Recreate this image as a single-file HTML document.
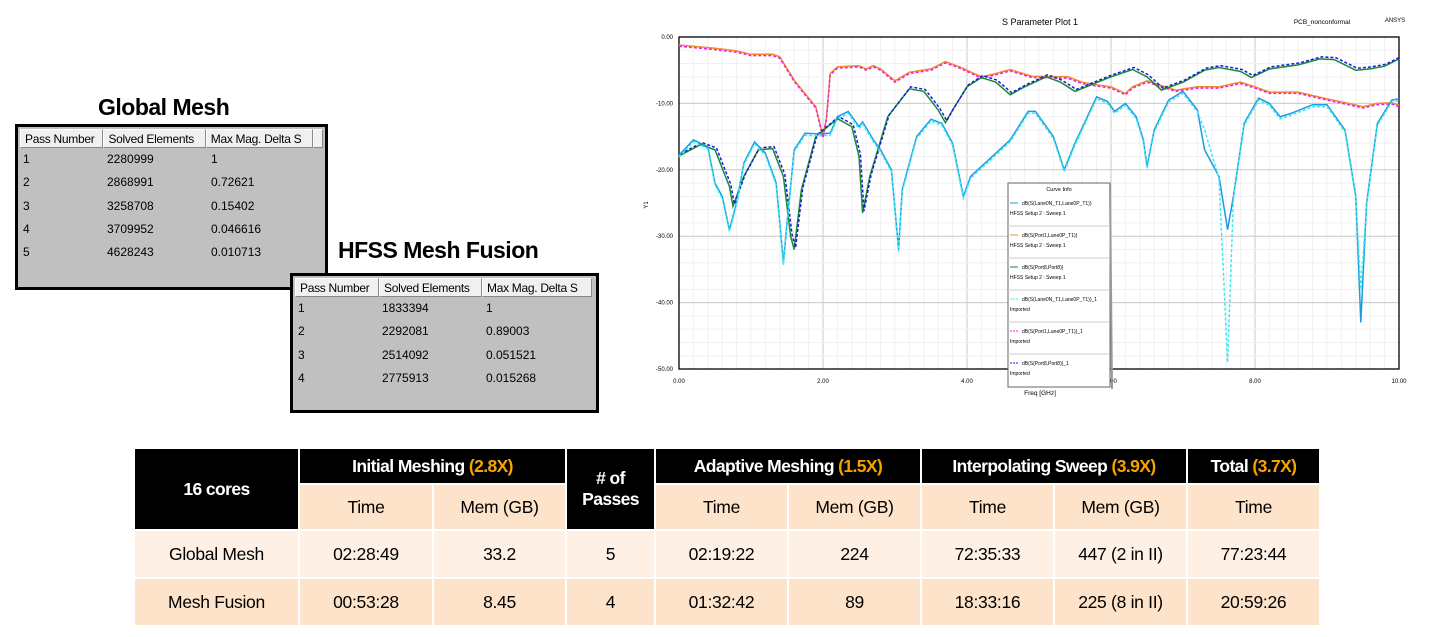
<!DOCTYPE html>
<html><head><meta charset="utf-8"><style>
body{margin:0;width:1442px;height:637px;background:#fff;position:relative;overflow:hidden;font-family:"Liberation Sans",sans-serif}
.h{position:absolute;font-weight:bold;font-size:23px;color:#000;letter-spacing:-0.5px}
.win{position:absolute;border:3px solid #000;background:#c0c0c0;font-size:12px;color:#000}
.win .hd{display:flex;margin:2px 2px 0 2px}
.win .hd div{background:#f0f0f0;border:1px solid #888;border-top-color:#fff;border-left-color:#fff;height:19px;line-height:19px;padding-left:4px;box-sizing:border-box;letter-spacing:-0.3px}
.win .r{display:flex;height:23.3px;line-height:23px;margin-left:5px}
table.t{position:absolute;left:133px;top:447px;border-collapse:collapse;font-family:"Liberation Sans",sans-serif;font-size:17.5px;letter-spacing:-0.3px}
table.t td{border:2px solid #fff;text-align:center;padding:0}
.k{background:#000;color:#fff;font-weight:bold;letter-spacing:-0.6px}
.o{color:#f5a300}
.p{background:#fde3c9}
.q{background:#fef0e4}
</style></head><body>
<div class="h" style="left:98px;top:94px">Global Mesh</div>
<div class="win" style="left:15px;top:124px;width:307px;height:160px">
 <div class="hd"><div style="width:84px">Pass Number</div><div style="width:103px">Solved Elements</div><div style="width:108px">Max Mag. Delta S</div><div style="width:10px"></div></div>
 <div class="r"><span style="width:84px">1</span><span style="width:104px">2280999</span><span>1</span></div>
 <div class="r"><span style="width:84px">2</span><span style="width:104px">2868991</span><span>0.72621</span></div>
 <div class="r"><span style="width:84px">3</span><span style="width:104px">3258708</span><span>0.15402</span></div>
 <div class="r"><span style="width:84px">4</span><span style="width:104px">3709952</span><span>0.046616</span></div>
 <div class="r"><span style="width:84px">5</span><span style="width:104px">4628243</span><span>0.010713</span></div>
</div>
<div class="h" style="left:338px;top:237px">HFSS Mesh Fusion</div>
<div class="win" style="left:290px;top:273px;width:303px;height:134px">
 <div class="hd"><div style="width:84px">Pass Number</div><div style="width:103px">Solved Elements</div><div style="width:110px">Max Mag. Delta S</div></div>
 <div class="r"><span style="width:84px">1</span><span style="width:104px">1833394</span><span>1</span></div>
 <div class="r"><span style="width:84px">2</span><span style="width:104px">2292081</span><span>0.89003</span></div>
 <div class="r"><span style="width:84px">3</span><span style="width:104px">2514092</span><span>0.051521</span></div>
 <div class="r"><span style="width:84px">4</span><span style="width:104px">2775913</span><span>0.015268</span></div>
</div>

<svg id="pl" style="position:absolute;left:0;top:0" width="1442" height="440" font-family="Liberation Sans, sans-serif">
<text x="1040" y="25" font-size="9" text-anchor="middle">S Parameter Plot 1</text>
<text x="1322" y="24" font-size="6.5" text-anchor="middle">PCB_nonconformal</text>
<text x="1395" y="22" font-size="6" text-anchor="middle">ANSYS</text>
<text x="648" y="205" font-size="6" transform="rotate(-90 648 205)" text-anchor="middle">Y1</text>
<text x="1040" y="395" font-size="6.5" text-anchor="middle">Freq [GHz]</text>
<g id="g"></g>
<rect x="679" y="37" width="720" height="332" fill="none" stroke="#000" stroke-width="1.3"/>
<g id="c" fill="none" stroke-width="1.5"></g>
<g>
<rect x="1008" y="183" width="102" height="204" fill="#fff" stroke="#666"/>
<line x1="1110" y1="185" x2="1112" y2="389" stroke="#999" stroke-width="2"/>
<text x="1059" y="191" font-size="5.5" text-anchor="middle">Curve Info</text>
<g font-size="5">
<line x1="1010" y1="203" x2="1018" y2="203" stroke="#1e9be0"/><text x="1022" y="205">dB(S(Lane0N_T1,Lane0P_T1))</text><text x="1010" y="215">HFSS Setup 2 : Sweep 1</text>
<line x1="1008" y1="226" x2="1110" y2="226" stroke="#ccc"/>
<line x1="1010" y1="235" x2="1018" y2="235" stroke="#f08c28"/><text x="1022" y="237">dB(S(Port1,Lane0P_T1))</text><text x="1010" y="247">HFSS Setup 2 : Sweep 1</text>
<line x1="1008" y1="258" x2="1110" y2="258" stroke="#ccc"/>
<line x1="1010" y1="267" x2="1018" y2="267" stroke="#168a3a"/><text x="1022" y="269">dB(S(Port8,Port8))</text><text x="1010" y="279">HFSS Setup 2 : Sweep 1</text>
<line x1="1008" y1="290" x2="1110" y2="290" stroke="#ccc"/>
<line x1="1010" y1="299" x2="1018" y2="299" stroke="#3ee8f0" stroke-dasharray="2,1"/><text x="1022" y="301">dB(S(Lane0N_T1,Lane0P_T1))_1</text><text x="1010" y="311">Imported</text>
<line x1="1008" y1="322" x2="1110" y2="322" stroke="#ccc"/>
<line x1="1010" y1="331" x2="1018" y2="331" stroke="#f020e0" stroke-dasharray="2,1"/><text x="1022" y="333">dB(S(Port1,Lane0P_T1))_1</text><text x="1010" y="343">Imported</text>
<line x1="1008" y1="354" x2="1110" y2="354" stroke="#ccc"/>
<line x1="1010" y1="363" x2="1018" y2="363" stroke="#1a1ad8" stroke-dasharray="2,1"/><text x="1022" y="365">dB(S(Port8,Port8))_1</text><text x="1010" y="375">Imported</text>
</g></g>
</svg>

<table class="t">
<tr style="height:36px"><td class="k" rowspan="2" style="width:163px">16 cores</td><td class="k" colspan="2">Initial Meshing <span class="o">(2.8X)</span></td><td class="k" rowspan="2" style="width:87px"># of<br>Passes</td><td class="k" colspan="2">Adaptive Meshing <span class="o">(1.5X)</span></td><td class="k" colspan="2">Interpolating Sweep <span class="o">(3.9X)</span></td><td class="k">Total <span class="o">(3.7X)</span></td></tr>
<tr style="height:46px"><td class="p" style="width:132px">Time</td><td class="p" style="width:131px">Mem (GB)</td><td class="p" style="width:131px">Time</td><td class="p" style="width:131px">Mem (GB)</td><td class="p" style="width:131px">Time</td><td class="p" style="width:131px">Mem (GB)</td><td class="p" style="width:131px">Time</td></tr>
<tr style="height:48px" class="q"><td>Global Mesh</td><td>02:28:49</td><td>33.2</td><td>5</td><td>02:19:22</td><td>224</td><td>72:35:33</td><td>447 (2 in II)</td><td>77:23:44</td></tr>
<tr style="height:48px" class="p"><td class="p">Mesh Fusion</td><td class="p">00:53:28</td><td class="p">8.45</td><td class="p">4</td><td class="p">01:32:42</td><td class="p">89</td><td class="p">18:33:16</td><td class="p">225 (8 in II)</td><td class="p">20:59:26</td></tr>
</table>

<script>
var X=f=>679+f*72, Y=d=>37-d*6.64;
var g='';
for(var i=0;i<=50;i++){var f=i*0.2;g+='<line x1="'+X(f)+'" y1="37" x2="'+X(f)+'" y2="369" stroke="'+(i%10==0?'#c8c8c8':'#f0f0f0')+'" />';}
for(var j=0;j<=25;j++){var d=-j*2;g+='<line x1="679" y1="'+Y(d)+'" x2="1399" y2="'+Y(d)+'" stroke="'+(j%5==0?'#c8c8c8':'#f0f0f0')+'" />';}
for(var i=0;i<=5;i++){g+='<text x="'+X(i*2)+'" y="383" font-size="6" text-anchor="middle">'+(i*2).toFixed(2)+'</text>';}
for(var j=0;j<=5;j++){g+='<text x="673" y="'+(Y(-j*10)+2)+'" font-size="6" text-anchor="end">'+(j==0?'0.00':'-'+(j*10)+'.00')+'</text>';}
document.getElementById('g').innerHTML=g;
var S21=[0,-1.2,.5,-1.7,.8,-2.1,1,-2.6,1.3,-2.6,1.4,-3,1.6,-6.5,1.9,-10.5,2,-15,2.05,-12,2.1,-5.5,2.2,-4.5,2.5,-4.3,2.6,-4.8,2.7,-4.3,2.8,-4.8,3,-6.6,3.2,-5.3,3.5,-4.8,3.7,-3.7,3.9,-4.5,4.2,-6,4.4,-5.5,4.6,-4.9,4.9,-5.9,5.4,-6,5.6,-6.8,5.8,-7.2,6,-7.5,6.2,-8.5,6.3,-7.5,6.5,-6.6,6.7,-7.3,6.9,-8,7.2,-7.5,7.5,-7.5,7.8,-6.8,8,-7.5,8.2,-8.3,8.6,-8.3,9,-9.3,9.3,-10,9.5,-10.5,9.7,-10,9.9,-9.9,10,-10.3];
var P8=[0,-17.9,.3,-16.2,.5,-17,.7,-22.5,.75,-25.5,.9,-21,1.1,-17,1.3,-16.8,1.45,-21,1.55,-30,1.6,-32,1.7,-23,1.9,-15,2.2,-12.3,2.4,-13.5,2.5,-18,2.55,-26.5,2.65,-21,2.9,-12,3.2,-7.8,3.4,-8.2,3.6,-11,3.7,-12.9,3.8,-11,4,-7.5,4.2,-6.1,4.4,-6.8,4.6,-8.7,4.8,-7.5,5.1,-6,5.3,-6.8,5.5,-8.2,5.7,-7.3,6,-6,6.3,-4.9,6.5,-6,6.7,-8,7,-6.8,7.3,-5,7.5,-4.6,7.8,-5.2,7.95,-6.1,8.2,-4.8,8.6,-4.2,8.9,-3.3,9.1,-3.4,9.4,-5,9.6,-4.8,9.8,-4.4,10,-3.3];
var CY=[0,-17.8,.2,-15.5,.4,-16.5,.5,-22,.6,-24,.7,-29,.8,-25,.9,-19,1.05,-15.8,1.2,-17.5,1.35,-22,1.45,-34,1.5,-28,1.6,-17,1.75,-14.5,1.95,-14.6,2.1,-14.5,2.2,-12,2.35,-11.2,2.5,-13.5,2.55,-12.8,2.7,-15.5,2.8,-17,2.95,-20,3.05,-32,3.1,-23,3.3,-15,3.5,-12.4,3.65,-13,3.8,-16,3.95,-24,4.05,-21,4.3,-18.5,4.6,-15.5,4.85,-11.2,4.95,-11.2,5.2,-15,5.35,-20,5.5,-16,5.8,-9,5.95,-9.7,6.05,-11.2,6.2,-10,6.35,-12,6.45,-15.5,6.5,-19.5,6.6,-14,6.8,-9.5,7,-8.2,7.2,-11,7.3,-17,7.5,-21,7.62,-29,7.7,-24,7.85,-13,8.05,-9.2,8.2,-10,8.35,-12,8.5,-11.5,8.8,-10.2,9,-10.2,9.25,-14,9.4,-24,9.47,-43,9.55,-25,9.7,-13,9.9,-9.5,10,-9.3];
function pts(a,dx,dy,mod){var s='';for(var i=0;i<a.length;i+=2){var f=a[i]+(dx||0),d=a[i+1]+(dy||0);if(mod)d=mod(a[i],d);s+=X(f).toFixed(1)+','+Y(d).toFixed(1)+' ';}return s;}
var c='';
c+='<polyline points="'+pts(S21)+'" stroke="#f08c28"/>';
c+='<polyline points="'+pts(S21,0,-0.2)+'" stroke="#f020e0" stroke-dasharray="3,2"/>';
c+='<polyline points="'+pts(P8)+'" stroke="#168a3a"/>';
c+='<polyline points="'+pts(P8,0.02,0.3)+'" stroke="#1a1ad8" stroke-dasharray="3,2"/>';
c+='<polyline points="'+pts(CY)+'" stroke="#1e9be0"/>';
c+='<polyline points="'+pts(CY,0,0,function(f,d){if(f==7.62)return -49;if(f==9.47)return -38;if(f==7.3)return -14;return d-0.3;})+'" stroke="#3ee8f0" stroke-dasharray="3,2"/>';
document.getElementById('c').innerHTML=c;
</script>
</body></html>
